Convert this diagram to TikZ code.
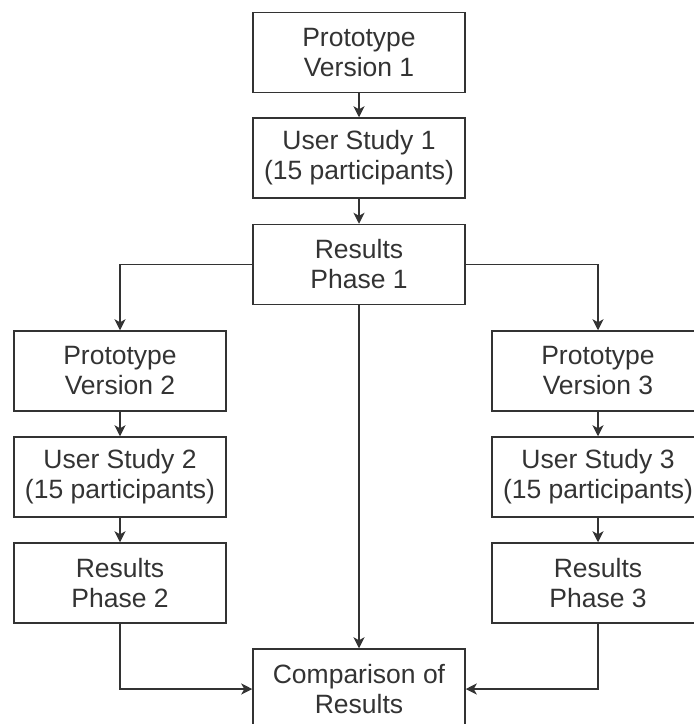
\documentclass[tikz,border=0pt]{standalone}
\usepackage{fontspec}
\setmainfont{Liberation Sans}
\usetikzlibrary{arrows.meta}
\definecolor{ink}{HTML}{333333}
\tikzset{
  stagebox/.style={draw=ink, line width=1.5pt, minimum width=212pt, minimum height=80pt,
    inner sep=0pt, align=center, text=ink,
    font=\fontsize{26.5}{30}\selectfont},
  link/.style={draw=ink, line width=1.5pt, -{Stealth[length=11pt,width=11pt,inset=3pt]}}
}
\begin{document}
\begin{tikzpicture}[x=1pt,y=-1pt]
\useasboundingbox (0,0) rectangle (694,724);
\clip (0,0) rectangle (694,724);
\node[stagebox] (p1) at (359,52.5) {Prototype\\Version 1};
\node[stagebox] (u1) at (359,158) {User Study 1\\(15 participants)};
\node[stagebox] (r1) at (359,264.5) {Results\\Phase 1};
\node[stagebox] (p2) at (120,371) {Prototype\\Version 2};
\node[stagebox] (u2) at (120,477) {User Study 2\\(15 participants)};
\node[stagebox] (r2) at (120,583) {Results\\Phase 2};
\node[stagebox] (p3) at (598,371) {Prototype\\Version 3};
\node[stagebox] (u3) at (598,477) {User Study 3\\(15 participants)};
\node[stagebox] (r3) at (598,583) {Results\\Phase 3};
\node[stagebox] (cmp) at (359,689) {Comparison of\\Results};
\draw[link] (p1) -- (u1);
\draw[link] (u1) -- (r1);
\draw[link] (r1.west) -| (p2.north);
\draw[link] (r1.east) -| (p3.north);
\draw[link] (r1) -- (cmp);
\draw[link] (p2) -- (u2);
\draw[link] (u2) -- (r2);
\draw[link] (p3) -- (u3);
\draw[link] (u3) -- (r3);
\draw[link] (r2.south) |- (cmp.west);
\draw[link] (r3.south) |- (cmp.east);
\end{tikzpicture}
\end{document}
